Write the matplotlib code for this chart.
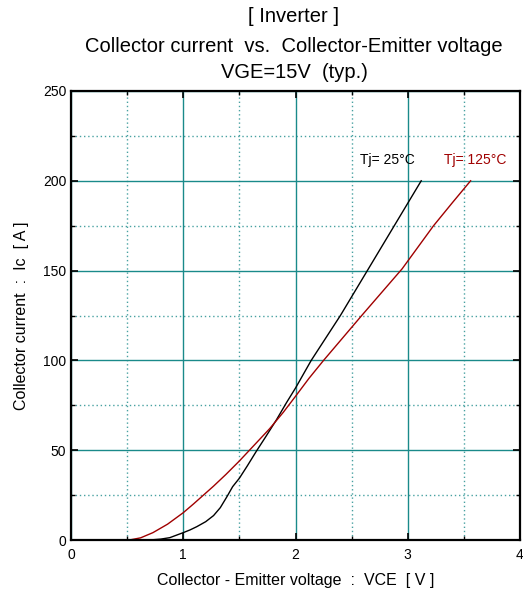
import matplotlib
matplotlib.use("Agg")
import matplotlib.pyplot as plt
from matplotlib.ticker import MultipleLocator

plt.rcParams['font.family'] = ['Liberation Sans', 'DejaVu Sans']

# Tj = 25 °C
vce_25 = [0.70, 0.80, 0.88, 1.00, 1.06, 1.12, 1.20, 1.27, 1.33, 1.39, 1.44, 1.50, 1.57, 1.65, 1.74, 1.83, 1.92, 2.00, 2.14, 2.27, 2.40, 2.52, 2.64, 2.76, 2.88, 3.00, 3.12]
ic_25 = [0.0, 0.5, 1.3, 4.1, 5.6, 7.4, 10.2, 13.6, 18.0, 24.2, 29.7, 34.4, 41.2, 49.3, 58.0, 66.9, 76.5, 84.6, 100, 112.5, 125, 137.5, 150, 162.5, 175, 187.5, 200]

# Tj = 125 °C
vce_125 = [0.52, 0.62, 0.73, 0.86, 1.00, 1.09, 1.18, 1.27, 1.38, 1.50, 1.59, 1.68, 1.77, 1.89, 2.00, 2.12, 2.25, 2.42, 2.59, 2.77, 2.95, 3.09, 3.23, 3.40, 3.56]
ic_125 = [0.0, 1.2, 4.1, 8.8, 15.2, 20.0, 25.0, 30.0, 36.5, 44.0, 50.0, 56.0, 62.0, 71.0, 80, 90, 100, 112.5, 125, 138, 151, 163, 175, 188, 200]

x_ticks = [0, 1, 2, 3, 4]
y_ticks = [0, 50, 100, 150, 200, 250]

teal = '#1a8a8a'
dark_red = '#a00000'

fig = plt.figure(figsize=(5.23, 5.93), dpi=100)
ax = fig.add_axes([71/523, 53/593, 449/523, 449/593])

ax.set_xlim(0, 4)
ax.set_ylim(0, 250)
ax.set_xticks(x_ticks)
ax.set_yticks(y_ticks)
ax.xaxis.set_minor_locator(MultipleLocator(0.5))
ax.yaxis.set_minor_locator(MultipleLocator(25))

ax.grid(which='major', color=teal, linewidth=1.0, linestyle='-')
ax.grid(which='minor', color=teal, linewidth=1.0, linestyle=(0, (1, 2)), alpha=0.8)
ax.set_axisbelow(True)

ax.plot(vce_25, ic_25, color='black', linewidth=1.0)
ax.plot(vce_125, ic_125, color=dark_red, linewidth=1.0)

for s in ax.spines.values():
    s.set_linewidth(1.6)
    s.set_color('black')

ax.tick_params(which='both', direction='in', top=True, right=True, labelsize=10)
ax.tick_params(which='major', length=5, width=1.2)
ax.tick_params(which='minor', length=3, width=1.0)
ax.tick_params(axis='x', pad=6)

ax.set_xlabel('Collector - Emitter voltage  :  VCE  [ V ]', fontsize=11.5, labelpad=8)
ax.set_ylabel('Collector current  :  Ic  [ A ]', fontsize=11.5, labelpad=10)

fig.text(294/523, 1 - 16/593, '[ Inverter ]', ha='center', va='center', fontsize=14.5)
fig.text(294/523, 1 - 46/593, 'Collector current  vs.  Collector-Emitter voltage', ha='center', va='center', fontsize=14.5)
fig.text(294/523, 1 - 72/593, 'VGE=15V  (typ.)', ha='center', va='center', fontsize=14.5)

ax.text(2.82, 211.5, 'Tj= 25°C', color='black', fontsize=10, ha='center', va='center')
ax.text(3.88, 211.5, 'Tj= 125°C', color=dark_red, fontsize=10, ha='right', va='center')

fig.savefig('out.png', dpi=100)
